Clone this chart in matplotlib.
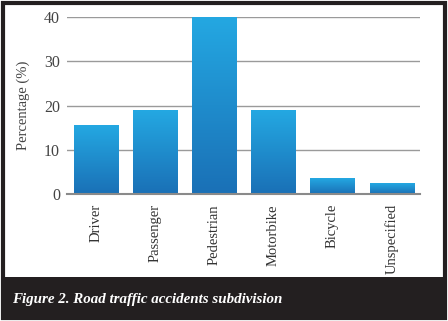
import numpy as np
import matplotlib.pyplot as plt
from matplotlib.patches import Rectangle
from matplotlib.colors import LinearSegmentedColormap

categories = ['Driver', 'Passenger', 'Pedestrian', 'Motorbike', 'Bicycle', 'Unspecified']
percentages = [15.4, 18.9, 40.0, 18.9, 3.4, 2.4]
y_ticks = [0, 10, 20, 30, 40]
caption = 'Figure 2. Road traffic accidents subdivision'

plt.rcParams['font.family'] = ['Liberation Serif', 'DejaVu Serif']

fig = plt.figure(figsize=(4.48, 3.21), dpi=100)
ax = fig.add_axes([67 / 448, 1 - 194.3 / 321, (420 - 67) / 448, 177.6 / 321])

x = np.arange(len(categories))
bars = ax.bar(x, percentages, width=0.745, color='#1e8fd2', zorder=2)

# vertical gradient inside each bar
cmap = LinearSegmentedColormap.from_list('blues', ['#1a70b6', '#24a8e2'])
grad = np.linspace(0, 1, 256).reshape(-1, 1)
for b in bars:
    x0, w, h = b.get_x(), b.get_width(), b.get_height()
    ax.imshow(grad, cmap=cmap, origin='lower', aspect='auto',
              extent=(x0, x0 + w, 0, h), zorder=3)

ax.set_xlim(-0.49, len(categories) - 0.52)
ax.set_ylim(0, 40)
ax.set_yticks(y_ticks)
ax.yaxis.grid(True, color='#9a9a9a', linewidth=1.0, zorder=1)
ax.set_axisbelow(True)
for s in ax.spines.values():
    s.set_visible(False)
ax.axhline(0, color='#8a8a8a', linewidth=1.5, zorder=4, clip_on=False)
ax.tick_params(axis='y', length=0, labelsize=11.5, colors='#444444', pad=5)
ax.tick_params(axis='x', length=0, labelsize=10.5, colors='#333333', pad=7)
ax.set_xticks(x)
ax.set_xticklabels(categories, rotation=90)
ax.set_ylabel('Percentage (%)', fontsize=10.5, color='#444444')
ax.yaxis.set_label_coords(-37 / 353, 0.5)

# caption band and outer frame
fig.patches.append(Rectangle((3 / 448, 3 / 321), 442 / 448, 41 / 321,
                             transform=fig.transFigure, facecolor='#231f20',
                             edgecolor='none', zorder=0))
fig.patches.append(Rectangle((3 / 448, 3 / 321), 442 / 448, 315 / 321,
                             transform=fig.transFigure, facecolor='none',
                             edgecolor='#231f20', linewidth=3, zorder=5))
fig.text(12 / 448, 1 - 300 / 321, caption, color='white', fontsize=10.8,
         fontweight='bold', fontstyle='italic', va='center', ha='left')

fig.savefig('out.png', dpi=100)
